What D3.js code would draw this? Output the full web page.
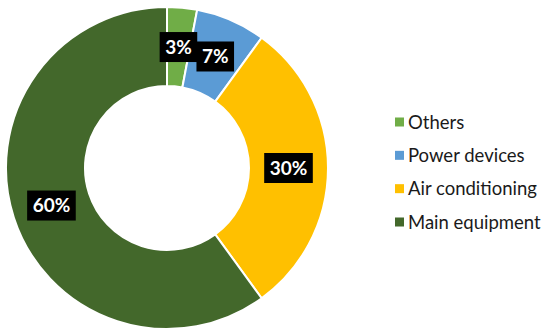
<!DOCTYPE html>
<html>
<head>
<meta charset="utf-8">
<script src="https://cdn.jsdelivr.net/npm/d3@7"></script>
<style>
  html, body { margin: 0; padding: 0; background: #fff; }
  svg { display: block; }
</style>
</head>
<body>
<svg id="chart" width="550" height="336"></svg>
<script>
// ---- data ----
const categories = ["Others", "Power devices", "Air conditioning", "Main equipment"];
const values = [3, 7, 30, 60];
const labels = ["3%", "7%", "30%", "60%"];
const colors = ["#70AD47", "#5B9BD5", "#FFC000", "#43682B"];

const svg = d3.select("#chart");
const cx = 167, cy = 168, outerR = 161, innerR = 82;

const pie = d3.pie().sort(null).value(d => d.value);
const arcs = pie(categories.map((c, i) => ({ cat: c, value: values[i], label: labels[i], color: colors[i] })));
const arc = d3.arc().innerRadius(innerR).outerRadius(outerR);

const g = svg.append("g").attr("transform", `translate(${cx},${cy})`);
g.selectAll("path.slice").data(arcs).enter().append("path")
  .attr("class", "slice")
  .attr("d", arc)
  .attr("fill", d => d.data.color)
  .attr("stroke", "#fff")
  .attr("stroke-width", 2)
  .attr("stroke-linejoin", "round");

// labels
const lab = g.selectAll("g.lab").data(arcs).enter().append("g")
  .attr("class", "lab")
  .attr("transform", d => `translate(${arc.centroid(d)})`);
lab.each(function(d) {
  const sel = d3.select(this);
  const t = sel.append("text")
    .attr("text-anchor", "middle")
    .attr("dy", "0.36em")
    .attr("fill", "#fff")
    .attr("font-family", "Lato, 'Open Sans', sans-serif")
    .attr("font-weight", "bold")
    .attr("font-size", 19)
    .text(d.data.label);
  const w = t.node().getComputedTextLength();
  sel.insert("rect", "text")
    .attr("x", -w / 2 - 5.5)
    .attr("y", -15)
    .attr("width", w + 11)
    .attr("height", 30)
    .attr("fill", "#000");
});

// legend
const legendY = d3.scalePoint().domain(categories).range([122, 222]);
const leg = svg.append("g");
const items = leg.selectAll("g").data(categories).enter().append("g")
  .attr("transform", d => `translate(395,${legendY(d)})`);
items.append("rect")
  .attr("x", 0).attr("y", -4.5).attr("width", 9).attr("height", 9)
  .attr("fill", (d, i) => colors[i]);
items.append("text")
  .attr("x", 13)
  .attr("dy", "0.36em")
  .attr("font-family", "Lato, 'Open Sans', sans-serif")
  .attr("font-size", 18.5)
  .attr("fill", "#1a1a1a")
  .text(d => d);
</script>
</body>
</html>
